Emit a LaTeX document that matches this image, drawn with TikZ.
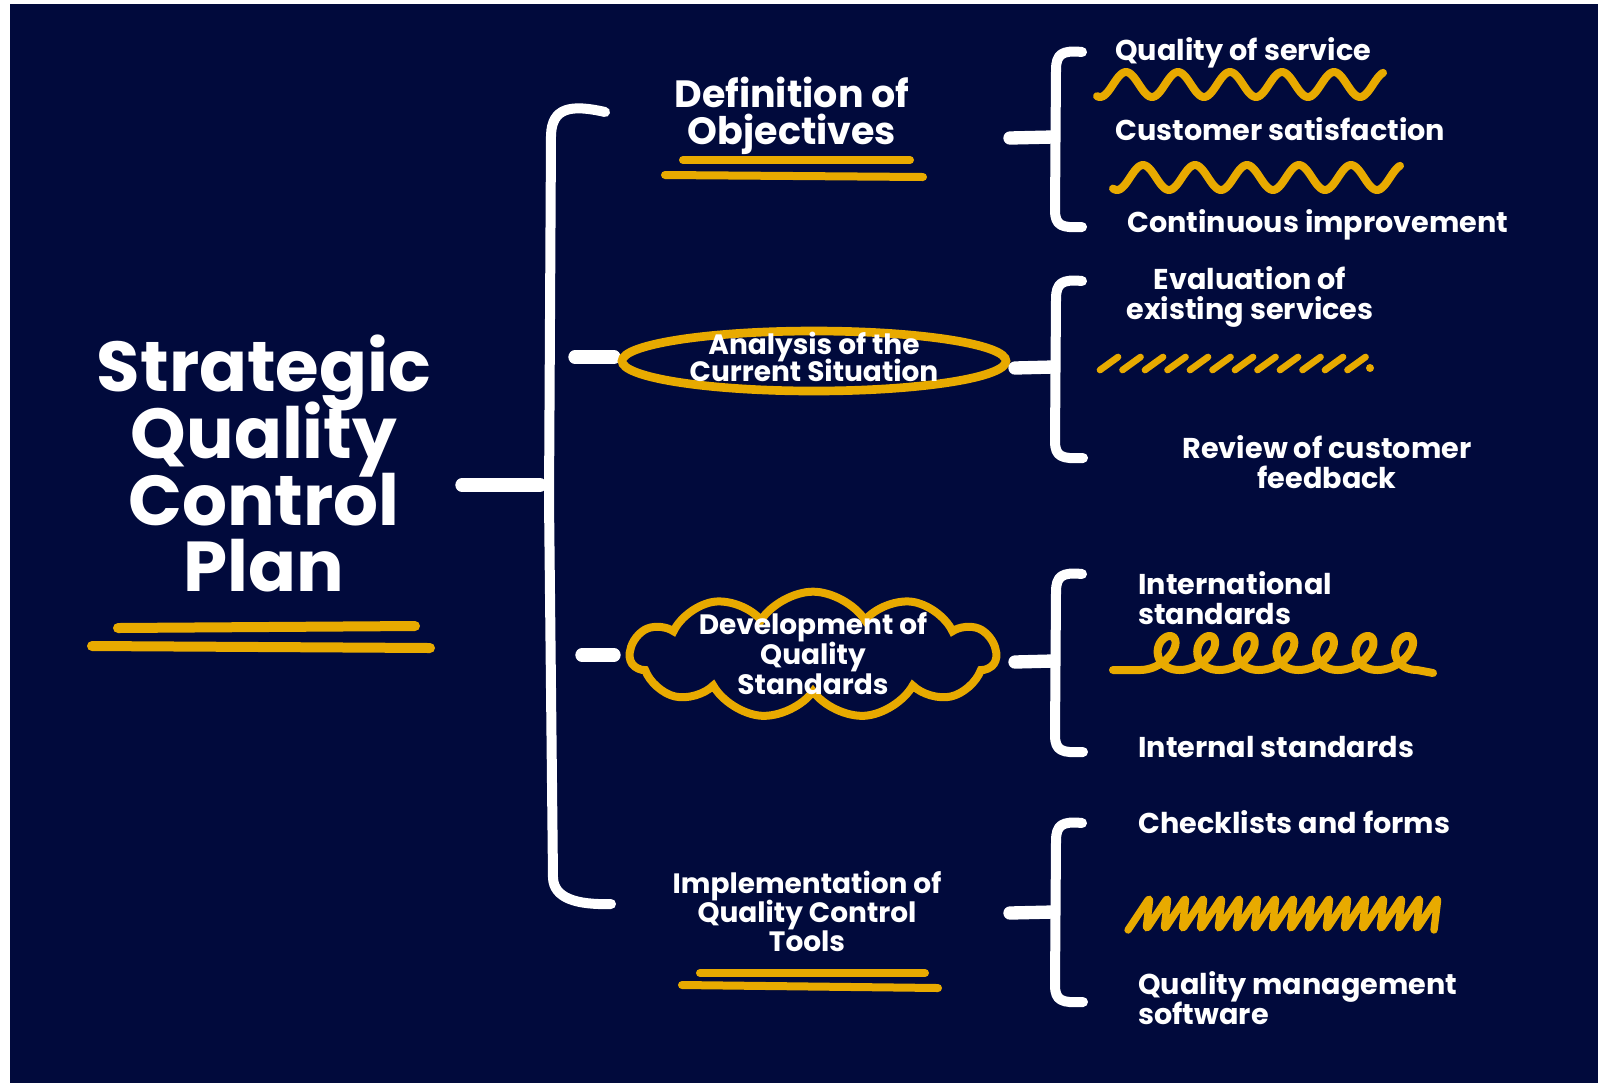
\documentclass[tikz,border=0pt]{standalone}
\usepackage{fontspec}
\setmainfont{Poppins}
\usetikzlibrary{shapes.geometric,shapes.symbols}
\definecolor{navy}{HTML}{010A3C}
\definecolor{gold}{HTML}{E8AA00}
\newcommand{\nolsk}{\lineskiplimit=-60pt\lineskip=0pt}
\begin{document}
\begin{tikzpicture}[x=0.75pt,y=-0.75pt,
  wline/.style={draw=white,line width=7.5pt,line cap=round,line join=round},
  wstub/.style={draw=white,line width=10pt,line cap=round},
  gline/.style={draw=gold,line width=6pt,line cap=round,line join=round},
  txt/.style={text=white,inner sep=0pt},
  ttl/.style={txt,align=center,font=\bfseries\fontsize{53}{50}\selectfont\nolsk},
  lvA/.style={txt,align=center,font=\bfseries\fontsize{28.5}{27.75}\selectfont\nolsk},
  lvB/.style={txt,align=center,font=\bfseries\fontsize{21}{21.75}\selectfont\nolsk},
  lvC/.style={txt,align=left,font=\bfseries\fontsize{21.5}{22.5}\selectfont\nolsk},
  lvCc/.style={txt,align=center,font=\bfseries\fontsize{21.5}{22.5}\selectfont\nolsk}]
\useasboundingbox (0,0) rectangle (1598,1083);
\fill[white] (0,0) rectangle (1598,1083);
\fill[navy] (10,4) rectangle (1598,1083);

% ---------- title ----------
\node[ttl,anchor=north] (title) at (264,335) {Strategic\\Quality\\Control\\Plan};
\draw[gline,line width=7.5pt] (118,628) -- (415,626);
\draw[gline,line width=7.5pt] (92,646) -- (430,648);

% ---------- big bracket ----------
\coordinate (bbtop) at (605,112);
\coordinate (bbbot) at (611,904);
\coordinate (bbmid) at (540,485);
\coordinate (tstub) at (462,485);
\draw[wline] (bbtop) .. controls (570,104) and (552,108) .. (551,135) -- (549,500) -- (553,878) .. controls (554,898) and (576,905) .. (bbbot);
\draw[wstub] (tstub) -- (bbmid);
\coordinate (s2a) at (575,357);
\coordinate (s2b) at (614,357);
\coordinate (s3a) at (582,655);
\coordinate (s3b) at (614,655);
\draw[wstub] (s2a) -- (s2b);
\draw[wstub] (s3a) -- (s3b);

% ---------- level 2 ----------
\node[lvA,anchor=north] (def) at (792,77) {Definition of\\Objectives};
\draw[gline] (683,160) -- (910,160);
\draw[gline] (665,175) -- (923,177);

\node[ellipse,draw=gold,line width=6.5pt,minimum width=288pt,minimum height=45pt,inner sep=0pt] (anaell) at (814,361) {};
\node[lvB,anchor=north,font=\bfseries\fontsize{21}{20.25}\selectfont\nolsk] (ana) at (814,332) {Analysis of the\\Current Situation};

\node[cloud,cloud puffs=11,cloud puff arc=115,aspect=2.8,draw=gold,line width=6pt,minimum width=274pt,minimum height=95pt,inner sep=0pt] (devcl) at (813,655) {};
\node[lvB,anchor=north,font=\bfseries\fontsize{21}{22.5}\selectfont\nolsk] (dev) at (813,612) {Development of\\Quality\\Standards};

\node[lvB,anchor=north] (imp) at (807,871) {Implementation of\\Quality Control\\Tools};
\draw[gline] (700,973) -- (925,973);
\draw[gline] (682,985) -- (938,988);

% ---------- right brackets ----------
% 1
\coordinate (r1s) at (1010,138);
\coordinate (r1m) at (1053,137);
\draw[wline] (1082,52) .. controls (1062,50) and (1056,54) .. (1056,70) -- (1055,210) .. controls (1055,226) and (1062,228) .. (1082,227);
\draw[wstub] (r1s) -- (r1m);
% 2
\coordinate (r2s) at (1015,368);
\coordinate (r2m) at (1053,367);
\draw[wline] (1082,281) .. controls (1062,279) and (1056,283) .. (1056,299) -- (1055,441) .. controls (1055,457) and (1062,459) .. (1083,458);
\draw[wstub] (r2s) -- (r2m);
% 3
\coordinate (r3s) at (1015,662);
\coordinate (r3m) at (1053,661);
\draw[wline] (1082,574) .. controls (1062,572) and (1056,576) .. (1056,592) -- (1055,735) .. controls (1055,751) and (1062,753) .. (1083,752);
\draw[wstub] (r3s) -- (r3m);
% 4
\coordinate (r4s) at (1010,913);
\coordinate (r4m) at (1053,912);
\draw[wline] (1082,823) .. controls (1062,821) and (1056,825) .. (1056,841) -- (1055,985) .. controls (1055,1001) and (1062,1003) .. (1083,1002);
\draw[wstub] (r4s) -- (r4m);

% ---------- level 3 ----------
\node[lvC,anchor=base west] (q1) at (1115,60) {Quality of service};
\draw[gline] plot[domain=1097:1383,samples=160,smooth] (\x,{84.5+12.5*cos((\x-1100)/52*360)});
\node[lvC,anchor=base west] (q2) at (1115,140) {Customer satisfaction};
\draw[gline] plot[domain=1113:1400,samples=160,smooth] (\x,{177.5+12.5*cos((\x-1117)/52*360)});
\node[lvC,anchor=base west] (q3) at (1127,232) {Continuous improvement};

\node[lvCc,anchor=north] (e1) at (1250,266) {Evaluation of\\existing services};
\foreach \i in {0,...,11} \draw[gline,line width=5pt] ({1100+22.5*\i},370) -- ({1118+22.5*\i},357);
\fill[gold] (1370,368) circle (3pt);
\node[lvCc,anchor=north] (e2) at (1327,435) {Review of customer\\feedback};

\node[lvC,anchor=north west] (s1) at (1138,571) {International\\standards};
\draw[gline] (1113,670) -- (1140,670) -- plot[domain=0:2520,samples=400,smooth] ({1140+0.10996*\x+17*sin(\x)+5*(1-cos(\x))},{670-17*(1-cos(\x))}) -- (1433,673);
\node[lvC,anchor=base west] (s2) at (1138,757) {Internal standards};

\node[lvC,anchor=base west] (t1) at (1138,833) {Checklists and forms};
\draw[gline,line width=5.5pt,rounded corners=3pt] (1128,930) \foreach \i in {0,...,16} { -- ({1128+18*\i+22},897) -- ({1128+18*(\i+1)},930)};
\node[lvC,anchor=north west] (t2) at (1138,971) {Quality management\\software};
\end{tikzpicture}
\end{document}
